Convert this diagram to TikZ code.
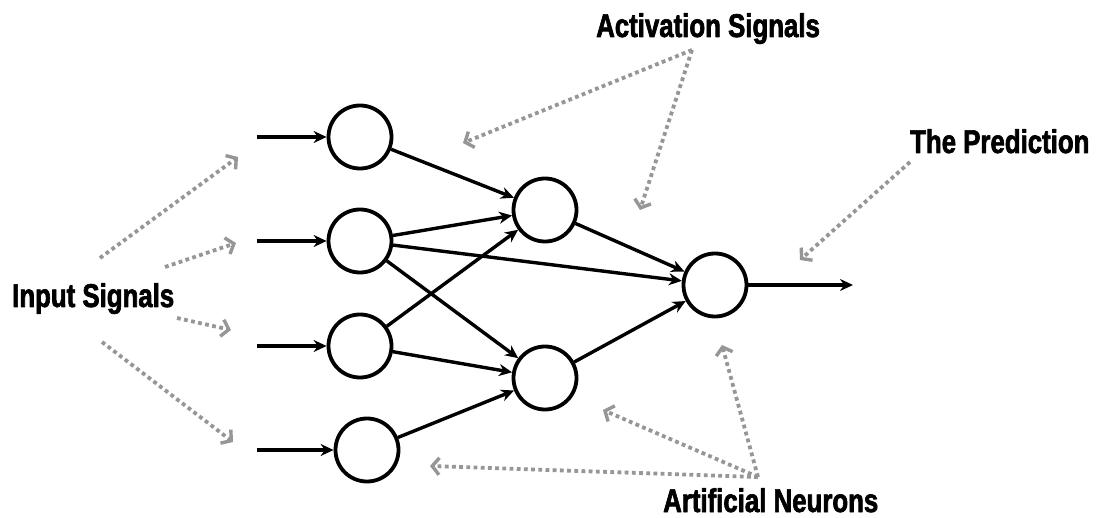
\documentclass[tikz,border=0pt]{standalone}
\usepackage{fontspec}
\newfontfamily\labelfont[FakeStretch=0.785,FakeBold=2]{Liberation Sans}
\usetikzlibrary{arrows.meta}
\definecolor{hintgray}{RGB}{150,150,150}

\begin{document}
\begin{tikzpicture}[x=1bp,y=-1bp,line join=round,
  neuron/.style={circle,draw,line width=3.8bp,minimum size=63bp,inner sep=0pt},
  wire/.style={line width=3.4bp,-{Stealth[length=13bp,width=12bp]}},
  hint/.style={hintgray,line width=3.8bp,dash pattern=on 3.8bp off 3.4bp,
    -{Straight Barb[length=7bp,width=17bp,line width=3.4bp]}},
  caption/.style={font=\labelfont\bfseries\fontsize{33}{36}\selectfont,
    inner sep=0pt,anchor=base west}]
  \useasboundingbox (0,0) rectangle (1100,518);

  % Neurons
  \node[neuron] (i1) at (360,137) {};
  \node[neuron] (i2) at (360,241) {};
  \node[neuron] (i3) at (360,346) {};
  \node[neuron] (i4) at (367,450) {};
  \node[neuron] (h1) at (545,210) {};
  \node[neuron] (h2) at (545,378) {};
  \node[neuron] (o)  at (715,285) {};

  % Inputs and output
  \foreach \k/\y in {1/137,2/241,3/346,4/450}
    \coordinate (s\k) at (257,\y);
  \coordinate (e) at (853,285);
  \foreach \k in {1,...,4}
    \draw[wire] (s\k) -- (i\k);
  \draw[wire] (o) -- (e);

  % Weights
  \draw[wire] (i1) -- (h1);
  \draw[wire] (i2) -- (h1);
  \draw[wire] (i2) -- (h2);
  \draw[wire] (i2) -- (o);
  \draw[wire] (i3) -- (h1);
  \draw[wire] (i3) -- (h2);
  \draw[wire] (i4) -- (h2);
  \draw[wire] (h1) -- (o);
  \draw[wire] (h2) -- (o);

  % Labels
  \node[caption] (act)  at (596,37)  {Activation Signals};
  \node[caption] (inp)  at (12,307)  {Input Signals};
  \node[caption] (pred) at (910,153) {The Prediction};
  \node[caption] (art)  at (663,512) {Artificial Neurons};

  % Pointers
  \coordinate (u1) at (100,258);  \coordinate (v1) at (238,157);
  \coordinate (u2) at (165,267);  \coordinate (v2) at (236,243);
  \coordinate (u3) at (177,318);  \coordinate (v3) at (231,330);
  \coordinate (u4) at (102,342);  \coordinate (v4) at (233,442);
  \foreach \k in {1,...,4}
    \draw[hint] (u\k) -- (v\k);

  \coordinate (a0) at (692,50);
  \coordinate (a1) at (463,143);
  \coordinate (a2) at (640,210);
  \draw[hint] (a0) -- (a1);
  \draw[hint] (a0) -- (a2);

  \coordinate (p0) at (910,162);
  \coordinate (p1) at (800,260);
  \draw[hint] (p0) -- (p1);

  \coordinate (n0) at (758,477);
  \coordinate (n1) at (430,466);
  \coordinate (n2) at (603,410);
  \coordinate (n3) at (722,345);
  \draw[hint] (n0) -- (n1);
  \draw[hint] (n0) -- (n2);
  \draw[hint] (n0) -- (n3);
\end{tikzpicture}
\end{document}
